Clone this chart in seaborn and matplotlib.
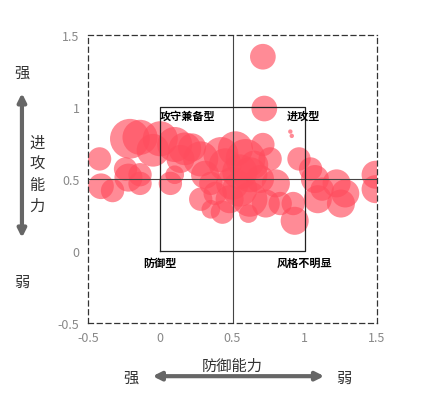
import matplotlib
matplotlib.use("Agg")
import matplotlib.pyplot as plt
import seaborn as sns
import pandas as pd

# 防御能力 / 进攻能力 / 气泡半径
x_def = [0.71, 0.72, 0.90, 0.91, -0.41, -0.33, -0.42, -0.21, -0.14, 0.0, 0.10, 0.14,
         -0.24, -0.22, -0.14, -0.14, 0.07, 0.10, 0.17, 0.28, 0.31, 0.35, 0.38, 0.28,
         0.42, 0.52, 0.59, 0.62, 0.55, 0.48, 0.62, 0.69, 0.73, 0.71, 0.76, 0.80, 0.83,
         0.96, 1.04, 1.07, 1.12, 1.09, 1.22, 1.25, 1.28, 0.92, 0.93, 1.49, 1.49,
         0.35, 0.43, 0.61, 0.45, 0.55, 0.50, 0.65, -0.05, 0.22]
y_att = [1.35, 0.99, 0.83, 0.80, 0.45, 0.42, 0.64, 0.78, 0.79, 0.78, 0.74, 0.64,
         0.57, 0.51, 0.53, 0.47, 0.47, 0.53, 0.71, 0.64, 0.53, 0.47, 0.40, 0.36,
         0.67, 0.71, 0.64, 0.53, 0.43, 0.36, 0.36, 0.50, 0.33, 0.74, 0.64, 0.47, 0.33,
         0.64, 0.57, 0.50, 0.43, 0.36, 0.47, 0.33, 0.40, 0.33, 0.21, 0.53, 0.43,
         0.29, 0.27, 0.26, 0.60, 0.55, 0.47, 0.60, 0.70, 0.72]
radius = [11, 11, 2, 2, 11, 10, 10, 17, 15, 15, 15, 12,
          10, 12, 10, 10, 10, 8, 14, 15, 12, 10, 10, 10,
          15, 15, 17, 15, 15, 12, 15, 12, 12, 10, 10, 12, 10,
          10, 10, 12, 10, 12, 12, 12, 12, 10, 12, 12, 12,
          8, 10, 8, 14, 15, 14, 12, 14, 12]

df = pd.DataFrame({"x": x_def, "y": y_att, "r2": [r * r for r in radius]})

plt.rcParams["font.family"] = ["Noto Sans CJK SC", "DejaVu Sans"]
fig = plt.figure(figsize=(4.22, 4.06), dpi=100)
ax = fig.add_axes([0.2085, 0.202, 0.685, 0.709])

sns.scatterplot(data=df, x="x", y="y", size="r2", sizes=(10, 820), color="#FF4D5E",
                alpha=0.65, edgecolor="none", legend=False, ax=ax)

ax.set_xlim(-0.5, 1.5)
ax.set_ylim(-0.5, 1.5)
ax.set_xticks([-0.5, 0, 0.5, 1, 1.5])
ax.set_xticklabels(["-0.5", "0", "0.5", "1", "1.5"])
ax.set_yticks([-0.5, 0, 0.5, 1, 1.5])
ax.set_yticklabels(["-0.5", "0", "0.5", "1", "1.5"])
ax.tick_params(length=0, labelsize=9, colors="#888888", pad=6)
for s in ax.spines.values():
    s.set_linestyle((0, (4, 3)))
    s.set_linewidth(0.9)
    s.set_color("#333333")
ax.set_xlabel("")
ax.set_ylabel("")

ax.axvline(0.5, color="#444444", lw=0.8)
ax.axhline(0.5, color="#444444", lw=0.8)
ax.plot([0, 1, 1, 0, 0], [0, 0, 1, 1, 0], color="#222222", lw=0.9)

ax.text(0.19, 0.94, "攻守兼备型", fontsize=8, ha="center", va="center", fontweight="bold")
ax.text(0.99, 0.94, "进攻型", fontsize=8, ha="center", va="center", fontweight="bold")
ax.text(0.0, -0.08, "防御型", fontsize=8, ha="center", va="center", fontweight="bold")
ax.text(1.0, -0.08, "风格不明显", fontsize=8, ha="center", va="center", fontweight="bold")

# 坐标轴说明和箭头
fig.text(0.55, 0.098, "防御能力", fontsize=11, color="#333333", ha="center", va="center")
fig.text(0.31, 0.068, "强", fontsize=11, color="#333333", ha="center", va="center")
fig.text(0.815, 0.068, "弱", fontsize=11, color="#333333", ha="center", va="center")
fig.add_artist(matplotlib.patches.FancyArrowPatch((0.355, 0.071), (0.775, 0.071),
               transform=fig.transFigure, arrowstyle="<|-|>", mutation_scale=12,
               color="#666666", lw=3))
fig.text(0.052, 0.82, "强", fontsize=11, color="#333333", ha="center", va="center")
fig.text(0.052, 0.305, "弱", fontsize=11, color="#333333", ha="center", va="center")
fig.text(0.088, 0.57, "进\n攻\n能\n力", fontsize=11, color="#333333", ha="center",
         va="center", linespacing=1.3)
fig.add_artist(matplotlib.patches.FancyArrowPatch((0.052, 0.775), (0.052, 0.405),
               transform=fig.transFigure, arrowstyle="<|-|>", mutation_scale=12,
               color="#666666", lw=3))

fig.savefig("out.png", dpi=100)
